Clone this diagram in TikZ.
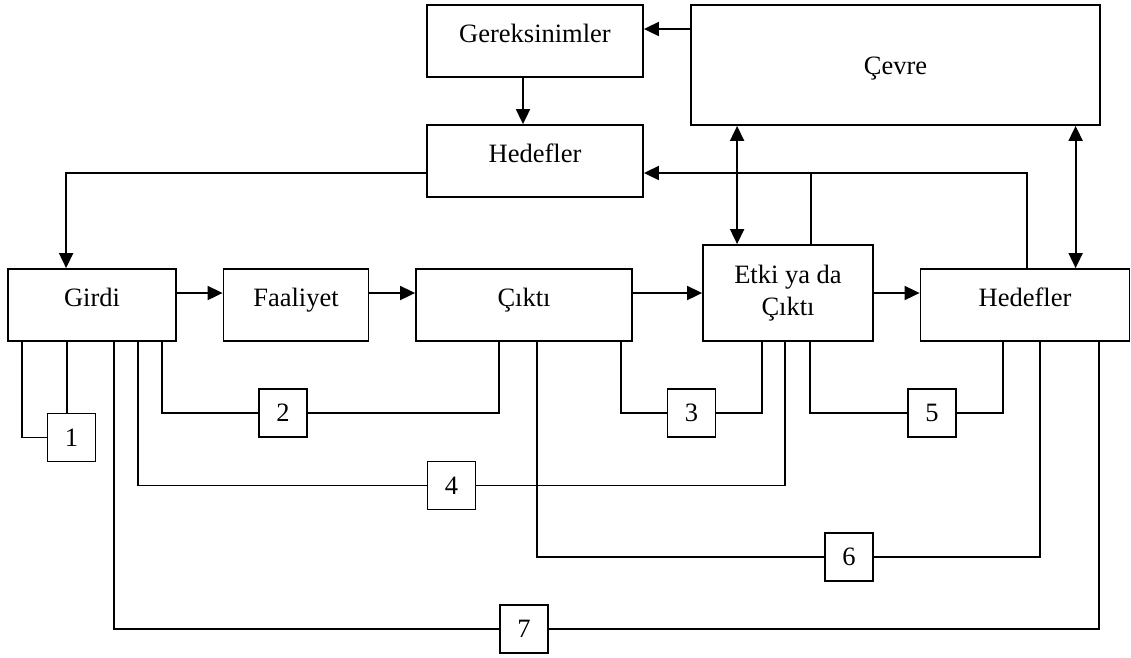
\documentclass[tikz,border=0pt]{standalone}
\usepackage{fontspec}
\setmainfont{Liberation Serif}
\usetikzlibrary{arrows.meta}
\begin{document}
\begin{tikzpicture}[x=1pt,y=-1pt,
  line width=1.8pt,
  font=\fontsize{26.5}{32}\selectfont,
  box/.style={draw,rectangle,inner xsep=0pt,inner ysep=0pt,minimum height=72pt,
              text height=37pt,text depth=35pt},
  numbox/.style={draw,rectangle,inner sep=0pt,minimum width=48pt,minimum height=48pt},
  arr/.style={-{Triangle[length=15pt,width=14pt]}},
  dbl/.style={{Triangle[length=15pt,width=14pt]}-{Triangle[length=15pt,width=14pt]}}]

\useasboundingbox (0,0) rectangle (1131,657);

% upper blocks
\node[box,minimum width=216pt] (ger) at (535,41) {Gereksinimler};
\node[draw,rectangle,inner sep=0pt,minimum width=409pt,minimum height=120pt,
      text height=69pt,text depth=51pt] (cevre) at (895.5,65) {Çevre};
\node[box,minimum width=216pt] (hed1) at (535,161) {Hedefler};

% main chain
\node[box,minimum width=168pt] (girdi) at (92,305) {Girdi};
\node[box,minimum width=145pt] (faal) at (296,305) {Faaliyet};
\node[box,minimum width=216pt] (cikti) at (524,305) {Çıktı};
\node[draw,rectangle,inner sep=0pt,minimum width=170pt,minimum height=96pt,
      align=center] (etki) at (788,293) {Etki ya da\\Çıktı};
\node[box,minimum width=209pt] (hed2) at (1025,305) {Hedefler};

% numbered links
\node[numbox] (n1) at (71.5,437.5) {1};
\node[numbox] (n2) at (283,413) {2};
\node[numbox] (n3) at (691.5,413) {3};
\node[numbox] (n4) at (451.5,485.5) {4};
\node[numbox] (n5) at (932,413) {5};
\node[numbox] (n6) at (849,557) {6};
\node[numbox] (n7) at (524,629) {7};

% top connections
\coordinate (c1) at ([yshift=12pt]ger.east);
\draw[arr] (c1 -| cevre.west) -- (c1);
\draw[arr] ([xshift=-12pt]ger.south) -- ([xshift=-12pt]hed1.north);
\draw[arr] ([yshift=-12pt]hed1.west) -| ([xshift=59pt]girdi.north west);

% feedback to Hedefler
\coordinate (fb) at ([yshift=-12pt]hed1.east);
\draw[arr] ([xshift=107pt]hed2.north west) |- (fb);
\coordinate (e1) at ([xshift=109pt]etki.north west);
\draw (e1) -- (e1 |- fb);

% links with Çevre
\coordinate (d1) at ([xshift=35pt]etki.north west);
\draw[dbl] (d1 |- cevre.south) -- (d1);
\coordinate (d2) at ([xshift=156pt]hed2.north west);
\draw[dbl] (d2 |- cevre.south) -- (d2);

% chain arrows
\coordinate (h1) at ([yshift=12pt]girdi.east);
\draw[arr] (h1) -- (h1 -| faal.west);
\coordinate (h2) at ([yshift=12pt]faal.east);
\draw[arr] (h2) -- (h2 -| cikti.west);
\coordinate (h3) at ([yshift=12pt]cikti.east);
\draw[arr] (h3) -- (h3 -| etki.west);
\draw[arr] (etki.east) -- (etki.east -| hed2.west);

% loop 1
\draw ([xshift=15pt]girdi.south west) |- (n1.west);
\coordinate (g1) at ([xshift=60pt]girdi.south west);
\draw (g1) -- (g1 |- n1.north);
% loop 2
\draw ([xshift=155pt]girdi.south west) |- (n2.west);
\draw (n2.east) -| ([xshift=84pt]cikti.south west);
% loop 3
\draw ([xshift=-12pt]cikti.south east) |- (n3.west);
\draw (n3.east) -| ([xshift=60pt]etki.south west);
% loop 4
\draw ([xshift=131pt]girdi.south west) |- (n4.west);
\draw (n4.east) -| ([xshift=83pt]etki.south west);
% loop 5
\draw ([xshift=108pt]etki.south west) |- (n5.west);
\draw (n5.east) -| ([xshift=83pt]hed2.south west);
% loop 6
\draw ([xshift=122pt]cikti.south west) |- (n6.west);
\draw (n6.east) -| ([xshift=120pt]hed2.south west);
% loop 7
\draw ([xshift=107pt]girdi.south west) |- (n7.west);
\draw (n7.east) -| ([xshift=179pt]hed2.south west);

\end{tikzpicture}
\end{document}
